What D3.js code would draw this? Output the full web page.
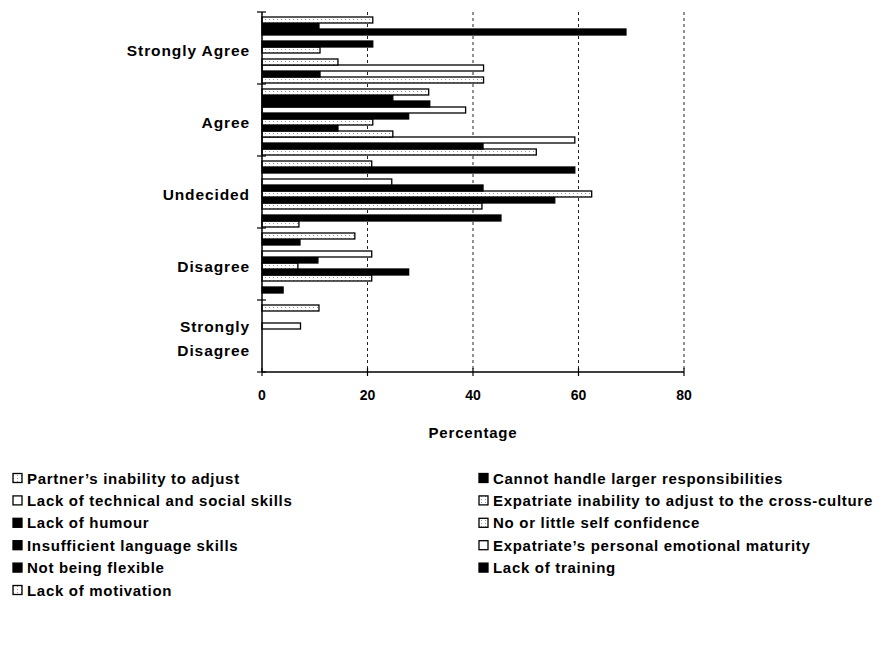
<!DOCTYPE html>
<html><head><meta charset="utf-8">
<script src="https://cdn.jsdelivr.net/npm/d3@7"></script>
<style>
html,body{margin:0;padding:0;background:#fff;}
text{font-family:"Liberation Sans",Arial,sans-serif;font-weight:bold;fill:#000;}
</style></head>
<body><svg id="c" width="884" height="648"></svg>
<script>
const categories = ["Strongly Agree","Agree","Undecided","Disagree","Strongly Disagree"];
const seriesNames = [
  "Partner\u2019s inability to adjust",
  "Cannot handle larger responsibilities",
  "Lack of technical and social skills",
  "Expatriate inability to adjust to the cross-culture",
  "Lack of humour",
  "No or little self confidence",
  "Insufficient language skills",
  "Expatriate\u2019s personal emotional maturity",
  "Not being flexible",
  "Lack of training",
  "Lack of motivation"
];
const seriesFill = ["dots","black","white","dots","black","dots","black","white","black","black","dots"];
// values per series for [SA, A, U, D, SD]
const partner     = [42, 52, 7, 0, 0];
const cannot      = [11, 41.9, 45.3, 4, 0];
const technical   = [42, 59.3, 0, 0, 0];
const expInability= [14.4, 24.8, 41.7, 20.8, 0];
const humour      = [0, 14.4, 55.5, 27.8, 0];
const selfConf    = [11, 21, 62.5, 6.8, 0];
const language    = [21, 27.8, 41.9, 10.6, 0];
const maturity    = [0, 38.6, 24.6, 20.8, 7.3];
const flexible    = [69, 31.8, 0, 0, 0];
const training    = [10.8, 24.8, 59.3, 7.2, 0];
const motivation  = [21, 31.6, 20.8, 17.6, 10.8];
const seriesValues = [partner,cannot,technical,expInability,humour,selfConf,language,maturity,flexible,training,motivation];
const xTicks = [0,20,40,60,80];

const svg = d3.select("#c");
const defs = svg.append("defs");
const pat = defs.append("pattern").attr("id","dots").attr("width",4).attr("height",3)
  .attr("patternUnits","userSpaceOnUse");
pat.append("rect").attr("width",4).attr("height",3).attr("fill","#fff");
pat.append("rect").attr("x",1).attr("y",1).attr("width",1).attr("height",1).attr("fill","#999");
const fillOf = f => f==="dots" ? "url(#dots)" : (f==="black" ? "#000" : "#fff");

const x = d3.scaleLinear().domain([0,80]).range([262,684]);
const y = d3.scaleBand().domain(categories).range([12,372]).padding(0);
// series order top→bottom in each group is reverse of legend order
const slotOrder = d3.range(seriesNames.length).reverse();
const yInner = d3.scaleBand().domain(slotOrder).range([5,71]).padding(0);

// gridlines
svg.append("g").selectAll("line").data(xTicks.filter(d=>d>0)).join("line")
  .attr("x1",d=>x(d)).attr("x2",d=>x(d)).attr("y1",12).attr("y2",372)
  .attr("stroke","#222").attr("stroke-width",1).attr("stroke-dasharray","3,3");

// bars
const bars = [];
seriesValues.forEach((vals,si)=>vals.forEach((v,ci)=>{ if(v>0) bars.push({si,ci,v}); }));
svg.append("g").selectAll("rect").data(bars).join("rect")
  .attr("x",x(0))
  .attr("y",d=>y(categories[d.ci])+yInner(d.si))
  .attr("width",d=>x(d.v)-x(0))
  .attr("height",yInner.bandwidth())
  .attr("fill",d=>fillOf(seriesFill[d.si]))
  .attr("stroke","#000").attr("stroke-width",1.3);

// y axis
const yAxis = svg.append("g");
yAxis.append("line").attr("x1",262).attr("x2",262).attr("y1",12).attr("y2",372).attr("stroke","#000").attr("stroke-width",1.5);
const bounds = categories.map(c=>y(c)).concat([372]);
yAxis.selectAll("line.t").data(bounds).join("line").attr("class","t")
  .attr("x1",257).attr("x2",266).attr("y1",d=>d).attr("y2",d=>d).attr("stroke","#000").attr("stroke-width",1.2);

// x axis
const xAxis = svg.append("g");
xAxis.append("line").attr("x1",262).attr("x2",684).attr("y1",372).attr("y2",372).attr("stroke","#000").attr("stroke-width",1.5);
xAxis.selectAll("line.t").data(xTicks).join("line").attr("class","t")
  .attr("x1",d=>x(d)).attr("x2",d=>x(d)).attr("y1",368).attr("y2",376).attr("stroke","#000").attr("stroke-width",1.2);
xAxis.selectAll("text").data(xTicks).join("text")
  .attr("x",d=>x(d)).attr("y",400).attr("text-anchor","middle")
  .style("font-size","14px").text(d=>d);

svg.append("text").attr("x",473).attr("y",438).attr("text-anchor","middle")
  .style("font-size","15px").style("letter-spacing","0.8px").text("Percentage");

// category labels
const catG = svg.append("g");
categories.forEach(c=>{
  const cy = y(c)+y.bandwidth()/2+2;
  const words = c==="Strongly Disagree" ? ["Strongly","Disagree"] : [c];
  words.forEach((w,i)=>{
    catG.append("text").attr("x",250).attr("y",cy + (i - (words.length-1)/2)*24 + 6)
      .attr("text-anchor","end").style("font-size","15.5px").style("letter-spacing","0.9px").text(w);
  });
});

// legend
const leg = svg.append("g");
seriesNames.forEach((name,i)=>{
  const col = i%2, row = Math.floor(i/2);
  const lx = col===0 ? 13 : 479;
  const ly = 478 + row*22.4;
  leg.append("rect").attr("x",lx).attr("y",ly-4.5).attr("width",9).attr("height",9)
    .attr("fill",fillOf(seriesFill[i])).attr("stroke","#000").attr("stroke-width",1.3);
  leg.append("text").attr("x",lx+14).attr("y",ly+5.5)
    .style("font-size","15px").style("letter-spacing","0.7px").text(name);
});
</script></body></html>
